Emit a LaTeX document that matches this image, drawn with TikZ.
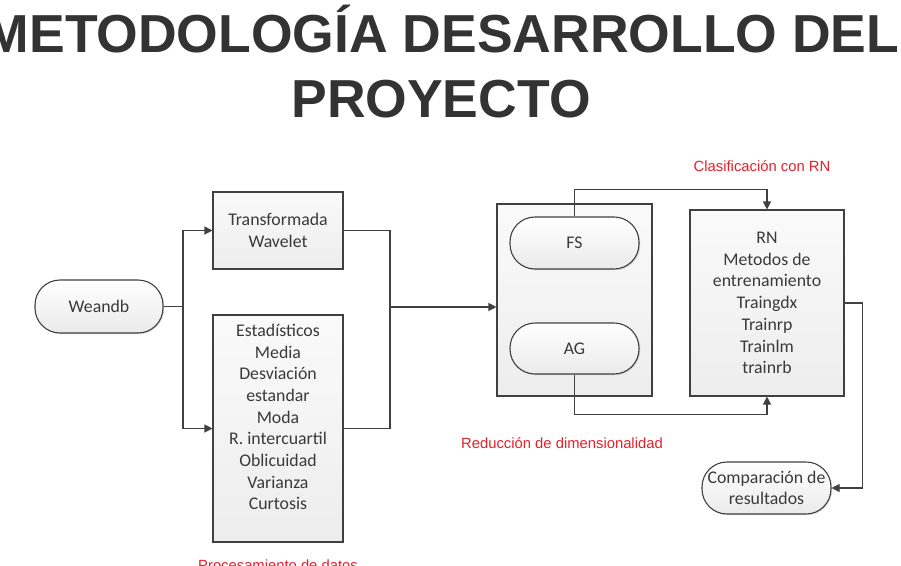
\documentclass[tikz,border=0pt]{standalone}
\usepackage{fontspec}
\setmainfont{Carlito}
\newfontfamily\arialfont{Liberation Sans}
\usetikzlibrary{arrows.meta,shadows}
\definecolor{ink}{HTML}{404040}
\definecolor{titleink}{HTML}{333333}
\definecolor{notered}{HTML}{E8202A}
\tikzset{
  boxtext/.style={font=\fontsize{17.8}{21.7}\selectfont, text=ink!90!black, align=center},
  procbox/.style={draw=ink, line width=1.1pt, top color=gray!4, bottom color=gray!14,
    drop shadow={shadow xshift=1.2pt, shadow yshift=-1.2pt, opacity=0.25}, inner sep=0pt},
  pill/.style={procbox, top color=white, bottom color=gray!16, rounded corners=25pt, boxtext},
  flow/.style={draw=ink, line width=1.1pt},
  arr/.style={flow, -{Triangle[length=8pt,width=8pt]}},
  note/.style={font=\arialfont\fontsize{14.8}{17}\selectfont, text=notered},
  titletext/.style={font=\arialfont\bfseries\fontsize{53.5}{64}\selectfont, text=titleink, anchor=base}
}
\begin{document}
\begin{tikzpicture}[x=1pt,y=-1pt]
\useasboundingbox[fill=white] (0,0) rectangle (901,565);

% title
\node[titletext] (t1) at (442,52) {METODOLOGÍA DESARROLLO DEL};
\node[titletext] (t2) at (441,117) {PROYECTO};

% input and data processing
\node[pill, minimum width=128pt, minimum height=53pt] (weandb) at (99,306.5) {Weandb};
\node[procbox, boxtext, minimum width=130pt, minimum height=77pt] (wavelet) at (278,230.5)
  {Transformada\\Wavelet};
\node[procbox, minimum width=130pt, minimum height=227pt] (est) at (278,428.5) {};
\node[boxtext] (estT) at (278,417)
  {Estadísticos\\Media\\Desviación\\estandar\\Moda\\R. intercuartil\\Oblicuidad\\Varianza\\Curtosis};

% dimensionality reduction
\node[procbox, minimum width=155pt, minimum height=192pt] (reduc) at (574.5,300) {};
\node[pill, minimum width=129pt, minimum height=52pt] (fs) at (574.5,243) {FS};
\node[pill, minimum width=129pt, minimum height=51pt] (ag) at (574.5,348.5) {AG};

% classification
\node[procbox, boxtext, minimum width=154pt, minimum height=186pt] (rn) at (767,303)
  {RN\\Metodos de\\entrenamiento\\Traingdx\\Trainrp\\Trainlm\\trainrb};
\node[pill, minimum width=129pt, minimum height=52pt, inner sep=0pt] (comp) at (766.5,488)
  {Comparación de\\resultados};

% stage labels
\node[note] (lclas) at (762,166) {Clasificación con RN};
\node[note] (lred) at (562,443) {Reducción de dimensionalidad};
\node[note, anchor=base] (lproc) at (278,570) {Procesamiento de datos};

% connectors
\coordinate (split) at (183,306.5);
\coordinate (merge) at (390,307);
\draw[flow] (weandb.east) -- (split);
\draw[arr] (split) |- (wavelet.west);
\draw[arr] (split) |- (est.west);
\draw[flow] (wavelet.east) -| (merge);
\draw[flow] (est.east) -| (merge);
\draw[arr] (merge) -- (reduc.west |- merge);
\draw[arr] (fs.north) -- ++(0,-27) -| (rn.north);
\draw[arr] (ag.south) -- ++(0,40) -| (rn.south);
\draw[arr] (rn.east) -- ++(18,0) |- (comp.east);
\end{tikzpicture}
\end{document}
